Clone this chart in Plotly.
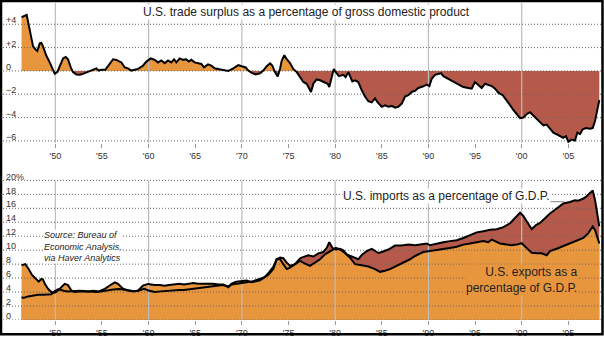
import plotly.graph_objects as go
import numpy as np

# ---------------- data ----------------
bal_year = [1946.38, 1946.93, 1947.26, 1947.61, 1947.86, 1948.07, 1948.33, 1948.50, 1948.68, 1949.04,
            1949.40, 1949.75, 1949.94, 1950.21, 1950.47, 1950.83, 1951.11, 1951.36, 1951.65, 1951.90,
            1952.25, 1952.62, 1952.97, 1953.51, 1954.04, 1954.40, 1954.65, 1954.93, 1955.36, 1955.83,
            1956.19, 1956.54, 1957.08, 1957.44, 1957.79, 1958.15, 1958.51, 1958.87, 1959.40, 1959.76,
            1960.23, 1960.66, 1961.01, 1961.36, 1961.73, 1962.08, 1962.44, 1962.73, 1962.97, 1963.34,
            1963.69, 1964.04, 1964.30, 1964.58, 1964.94, 1965.30, 1965.65, 1965.94, 1966.37, 1966.72,
            1967.09, 1967.44, 1967.84, 1968.55, 1969.08, 1969.62, 1969.98, 1970.41, 1970.69, 1971.06,
            1971.48, 1971.95, 1972.30, 1972.66, 1973.02, 1973.26, 1973.55, 1973.84, 1974.09, 1974.27,
            1974.55, 1974.81, 1975.16, 1975.51, 1975.88, 1976.23, 1976.59, 1976.95, 1977.41, 1977.66,
            1978.02, 1978.38, 1978.73, 1979.20, 1979.37, 1979.63, 1979.85, 1980.06, 1980.41, 1980.88,
            1981.13, 1981.41, 1981.59, 1981.84, 1982.13, 1982.48, 1982.85, 1983.20, 1983.56, 1983.92,
            1984.27, 1984.56, 1984.99, 1985.35, 1985.70, 1986.06, 1986.42, 1986.77, 1987.14, 1987.49,
            1987.84, 1988.21, 1988.56, 1988.92, 1989.45, 1989.82, 1990.10, 1990.35, 1990.71, 1991.06,
            1991.35, 1991.60, 1992.13, 1992.67, 1993.20, 1993.74, 1994.28, 1994.64, 1994.99, 1995.35,
            1995.71, 1996.07, 1996.42, 1996.78, 1997.14, 1997.49, 1997.96, 1998.39, 1998.75, 1999.10,
            1999.46, 1999.82, 2000.17, 2000.54, 2000.89, 2001.24, 2001.61, 2001.96, 2002.32, 2002.68,
            2003.03, 2003.39, 2003.75, 2004.10, 2004.46, 2004.75, 2005.00, 2005.36, 2005.71, 2005.96,
            2006.25, 2006.54, 2006.89, 2007.32, 2007.61, 2007.86, 2008.10, 2008.32]
bal_value = [4.6, 4.8, 3.5, 2.1, 1.85, 1.7, 2.36, 2.4, 2.1, 1.3,
             0.73, 0.03, -0.25, -0.1, 0.45, 1.07, 1.2, 1.0, 0.3, -0.1,
             -0.3, -0.33, -0.25, -0.05, 0.1, 0.22, 0.03, 0.1, 0.1, 0.6,
             1.0, 0.95, 0.73, 0.3, 0.22, 0.03, 0.08, 0.17, 0.45, 0.8,
             1.07, 0.95, 0.73, 0.9, 0.67, 0.9, 0.73, 1.0, 0.73, 1.07,
             0.95, 1.0, 0.8, 0.95, 0.73, 0.67, 0.6, 0.3, 0.56, 0.45,
             0.22, 0.17, 0.1, 0.0, 0.22, 0.5, 0.4, 0.3, 0.03, -0.17,
             -0.3, -0.2, 0.03, 0.4, 0.65, 0.45, -0.1, -0.48, 0.17, 0.87,
             1.35, 1.0, 0.67, 0.17, -0.1, -0.53, -0.95, -1.1, -1.8, -1.1,
             -0.73, -0.8, -0.9, -1.1, -1.38, -0.4, 0.17, -0.1, -0.45, -0.33,
             -0.53, -0.1, -0.45, -0.9, -0.8, -0.95, -1.66, -2.2, -2.6, -2.7,
             -2.36, -2.7, -3.07, -2.95, -3.07, -3.0, -3.15, -3.07, -2.8, -2.2,
             -2.08, -1.8, -1.7, -1.46, -1.32, -1.18, -1.3, -0.67, -0.34, -0.28,
             -0.2, -0.45, -0.67, -0.95, -1.18, -1.38, -1.46, -1.52, -0.95, -1.18,
             -1.46, -1.1, -1.18, -1.3, -1.52, -1.86, -2.08, -2.5, -2.93, -3.35,
             -3.7, -4.05, -4.0, -3.7, -3.54, -3.83, -4.05, -4.39, -4.67, -4.6,
             -4.95, -5.3, -5.43, -5.6, -5.74, -5.6, -6.08, -5.88, -5.97, -5.3,
             -5.4, -5.0, -4.9, -4.95, -4.9, -4.3, -3.35, -2.5]

exp_year = [1946.38, 1946.78, 1947.14, 1947.50, 1947.86, 1948.22, 1948.50, 1948.68, 1948.93, 1949.22,
            1949.57, 1949.94, 1950.29, 1950.65, 1951.01, 1951.36, 1951.72, 1952.08, 1952.79, 1953.51,
            1954.04, 1954.65, 1955.30, 1955.83, 1956.37, 1956.72, 1957.26, 1957.79, 1958.33, 1958.87,
            1959.40, 1959.94, 1960.66, 1961.2, 1961.7, 1962.2, 1962.7, 1963.3, 1963.8, 1964.3,
            1964.8, 1965.3, 1965.8, 1966.4, 1966.9, 1967.5, 1968.0, 1968.55, 1968.9, 1969.4,
            1969.9, 1970.5, 1971.06, 1971.5, 1971.95, 1972.4, 1972.84, 1973.37, 1973.73, 1974.09,
            1974.44, 1974.81, 1975.16, 1975.7, 1976.23, 1976.77, 1977.30, 1977.84, 1978.38, 1978.91,
            1979.45, 1980.06, 1980.52, 1981.05, 1981.59, 1982.13, 1982.85, 1983.56, 1984.27, 1984.81,
            1985.35, 1985.88, 1986.42, 1986.96, 1987.49, 1988.03, 1988.56, 1989.10, 1989.45, 1990.16,
            1990.88, 1991.60, 1992.31, 1993.03, 1993.74, 1994.46, 1995.17, 1995.89, 1996.42, 1996.78,
            1997.14, 1997.67, 1998.39, 1998.93, 1999.46, 2000.00, 2000.54, 2001.07, 2001.61, 2002.14,
            2002.68, 2003.03, 2003.75, 2004.46, 2005.18, 2005.89, 2006.61, 2007.14, 2007.61, 2007.86,
            2008.10, 2008.32]
exp_value = [7.85, 8.0, 7.3, 6.45, 5.97, 5.5, 5.88, 5.8, 5.03, 4.47,
             4.0, 3.9, 4.23, 4.7, 5.17, 5.0, 4.23, 4.0, 4.1, 4.05,
             4.2, 4.1, 4.47, 4.94, 5.4, 5.17, 4.47, 4.23, 4.1, 4.23,
             4.94, 5.17, 5.0, 5.0, 4.9, 5.0, 5.1, 5.2, 5.1, 5.25,
             5.3, 5.2, 5.2, 5.3, 5.2, 5.1, 5.1, 4.7, 5.2, 5.5,
             5.6, 5.64, 5.4, 5.5, 5.7, 6.1, 6.7, 7.6, 8.7, 8.93,
             8.84, 8.22, 7.76, 8.0, 8.46, 8.08, 7.76, 8.22, 8.7, 9.4,
             9.8, 10.34, 10.1, 9.6, 8.93, 8.0, 7.85, 7.66, 7.29, 6.9,
             7.05, 7.29, 7.66, 8.0, 8.33, 8.7, 9.17, 9.55, 9.74, 9.87,
             10.0, 10.2, 10.3, 10.5, 10.8, 10.96, 11.14, 11.3, 11.14, 11.52,
             11.3, 10.96, 10.8, 10.7, 10.8, 11.0, 10.3, 9.64, 9.55, 9.55,
             9.27, 9.87, 10.2, 10.58, 10.96, 11.3, 11.75, 12.45, 13.4, 12.9,
             12.0, 10.96]

imp_year = [1946.38, 1946.60, 1947.07, 1947.61, 1948.15, 1948.69, 1949.22, 1949.57, 1949.94, 1950.29,
            1950.65, 1951.01, 1951.36, 1951.90, 1952.5, 1953.15, 1953.8, 1954.4, 1955.0, 1955.6,
            1956.2, 1956.9, 1957.6, 1958.3, 1958.9, 1959.5, 1960.0, 1960.66, 1961.3, 1962.0,
            1962.7, 1963.3, 1963.8, 1964.3, 1964.8, 1965.3, 1965.8, 1966.4, 1966.9, 1967.5,
            1968.0, 1968.55, 1968.9, 1969.4, 1969.9, 1970.5, 1971.06, 1971.5, 1971.95, 1972.4,
            1972.84, 1973.37, 1973.73, 1974.09, 1974.44, 1974.81, 1975.16, 1975.7, 1976.23, 1976.41,
            1977.12, 1977.66, 1978.20, 1978.73, 1979.10, 1979.37, 1979.70, 1980.06, 1980.52, 1980.88,
            1981.24, 1981.59, 1982.13, 1982.48, 1982.85, 1983.38, 1983.92, 1984.27, 1984.63, 1984.99,
            1985.70, 1986.42, 1987.14, 1987.84, 1988.56, 1989.10, 1989.82, 1990.16, 1990.88, 1991.60,
            1992.31, 1993.03, 1993.74, 1994.46, 1995.17, 1995.89, 1996.60, 1997.32, 1998.03, 1998.75,
            1999.28, 1999.82, 2000.17, 2000.71, 2001.07, 2001.53, 2001.96, 2002.50, 2003.03, 2003.75,
            2004.46, 2005.18, 2005.71, 2006.07, 2006.61, 2006.96, 2007.32, 2007.61, 2007.86, 2008.10,
            2008.32]
imp_value = [3.29, 3.15, 3.38, 3.53, 3.6, 3.6, 3.6, 3.7, 4.15, 4.4,
             4.3, 4.14, 4.1, 4.15, 4.2, 4.15, 4.1, 4.0, 4.1, 4.25,
             4.37, 4.45, 4.35, 4.15, 4.2, 4.47, 4.23, 4.0, 4.1, 4.2,
             4.25, 4.3, 4.3, 4.4, 4.5, 4.6, 4.7, 4.8, 4.9, 4.95,
             5.0, 4.8, 5.1, 5.2, 5.2, 5.4, 5.5, 5.7, 5.9, 6.1,
             6.5, 7.3, 8.7, 8.7, 8.0, 7.29, 7.5, 8.0, 8.8, 8.93,
             9.27, 9.1, 9.55, 9.74, 10.34, 11.14, 10.34, 10.1, 10.2, 9.97,
             9.4, 9.2, 8.8, 8.7, 9.3, 9.87, 10.2, 9.87, 9.6, 9.74,
             10.1, 10.67, 10.67, 10.8, 10.7, 10.8, 10.96, 10.7, 10.96, 11.14,
             11.3, 11.42, 11.75, 12.2, 12.55, 12.7, 12.93, 13.0, 13.3, 13.86,
             14.57, 15.37, 14.9, 13.78, 13.0, 13.6, 13.9, 14.57, 15.27, 15.98,
             16.7, 16.9, 17.16, 17.1, 17.4, 17.73, 18.2, 18.57, 17.2, 14.8,
             13.4]

x_tick_vals = [1950, 1955, 1960, 1965, 1970, 1975, 1980, 1985, 1990, 1995, 2000, 2005]
x_tick_text = ["'50", "'55", "'60", "'65", "'70", "'75", "'80", "'85", "'90", "'95", "'00", "'05"]
decade_lines = [1950, 1960, 1970, 1980, 1990, 2000]
top_tick_vals = [4, 2, 0, -2, -4, -6]
top_tick_text = ["+4", "+2", "0", "\u22122", "\u22124", "\u22126"]
bot_tick_vals = [20, 18, 16, 14, 12, 10, 8, 6, 4, 2, 0]
bot_tick_text = ["20%", "18", "16", "14", "12", "10", "8", "6", "4", "2", "0"]

title_text = "U.S. trade surplus as a percentage of gross domestic product"
imports_text = "U.S. imports as a percentage of G.D.P."
exports_text = "U.S. exports as a<br>percentage of G.D.P."
source_text = "<i>Source: Bureau of<br>Economic Analysis,<br>via Haver Analytics</i>"

# ---------------- style ----------------
ORANGE = "#E8963D"
RED = "#B55A4B"
GRID_DOT = "#666666"
GRID_V = "#bcbcbc"
FONT = "Arial, Liberation Sans, Helvetica, sans-serif"
X_RANGE = [1944.39, 2008.50]
TOP_RANGE = [-6.203, 5.823]
BOT_RANGE = [0, 21.86]

fig = go.Figure()

bal = np.array(bal_value)

# --- top panel fills
fig.add_trace(go.Scatter(x=bal_year, y=np.maximum(bal, 0), mode="lines", fill="tozeroy",
                         fillcolor=ORANGE, line=dict(width=0), xaxis="x", yaxis="y",
                         hoverinfo="skip", showlegend=False))
fig.add_trace(go.Scatter(x=bal_year, y=np.minimum(bal, 0), mode="lines", fill="tozeroy",
                         fillcolor=RED, line=dict(width=0), xaxis="x", yaxis="y",
                         hoverinfo="skip", showlegend=False))

# --- bottom panel fills
fig.add_trace(go.Scatter(x=imp_year, y=imp_value, mode="lines", fill="tozeroy",
                         fillcolor=RED, line=dict(width=0), xaxis="x2", yaxis="y2",
                         hoverinfo="skip", showlegend=False))
fig.add_trace(go.Scatter(x=exp_year, y=exp_value, mode="lines", fill="tozeroy",
                         fillcolor=ORANGE, line=dict(width=0), xaxis="x2", yaxis="y2",
                         hoverinfo="skip", showlegend=False))


def grid_traces(xa, ya, hvals, yr):
    hx, hy = [], []
    for v in hvals:
        hx += [X_RANGE[0], X_RANGE[1], None]
        hy += [v, v, None]
    vx, vy = [], []
    for d in decade_lines:
        vx += [d, d, None]
        vy += [yr[0], yr[1], None]
    fig.add_trace(go.Scatter(x=vx, y=vy, mode="lines", line=dict(color=GRID_V, width=1.2),
                             xaxis=xa, yaxis=ya, hoverinfo="skip", showlegend=False))
    fig.add_trace(go.Scatter(x=hx, y=hy, mode="lines",
                             line=dict(color=GRID_DOT, width=1, dash="1px,2px"),
                             xaxis=xa, yaxis=ya, hoverinfo="skip", showlegend=False))


grid_traces("x", "y", top_tick_vals, TOP_RANGE)
grid_traces("x2", "y2", bot_tick_vals, [0, 20])

# --- black lines
fig.add_trace(go.Scatter(x=bal_year, y=bal_value, mode="lines", line=dict(color="black", width=2),
                         xaxis="x", yaxis="y", hoverinfo="skip", showlegend=False))
fig.add_trace(go.Scatter(x=imp_year, y=imp_value, mode="lines", line=dict(color="black", width=2),
                         xaxis="x2", yaxis="y2", hoverinfo="skip", showlegend=False))
fig.add_trace(go.Scatter(x=exp_year, y=exp_value, mode="lines", line=dict(color="black", width=2),
                         xaxis="x2", yaxis="y2", hoverinfo="skip", showlegend=False))

tickfont = dict(family=FONT, size=9, color="#333")
xaxis_common = dict(range=X_RANGE, tickvals=x_tick_vals, ticktext=x_tick_text, ticks="outside",
                    ticklen=4, tickwidth=1, tickcolor="#999", showgrid=False, zeroline=False,
                    showline=False, tickfont=tickfont, fixedrange=True)
yaxis_common = dict(ticks="", showgrid=False, zeroline=False, showline=False,
                    ticklabelposition="inside", ticklabelshift=-4, ticklabeloverflow="allow",
                    tickfont=tickfont, fixedrange=True)

fig.update_layout(
    width=604, height=341,
    margin=dict(l=3, r=3, t=3, b=16),
    paper_bgcolor="white", plot_bgcolor="white",
    xaxis=dict(domain=[0, 1], anchor="y", **xaxis_common),
    yaxis=dict(domain=[0.5575, 1], range=TOP_RANGE, tickvals=top_tick_vals,
               ticktext=top_tick_text, anchor="x", **yaxis_common),
    xaxis2=dict(domain=[0, 1], anchor="y2", **xaxis_common),
    yaxis2=dict(domain=[0, 0.4814], range=BOT_RANGE, tickvals=bot_tick_vals,
                ticktext=bot_tick_text, anchor="x2", **yaxis_common),
    showlegend=False,
)

annos = [
    dict(text=title_text, x=0.2324, y=0.972, xanchor="left", yanchor="middle",
         font=dict(family=FONT, size=12, color="#222"), bgcolor="white", borderpad=0),
    dict(text=imports_text, x=0.5669, y=0.3913, xanchor="left", yanchor="middle",
         font=dict(family=FONT, size=12, color="#222"), bgcolor="white", borderpad=0),
    dict(text=exports_text, x=0.9632, y=0.1273, xanchor="right", yanchor="middle", align="right",
         font=dict(family=FONT, size=12, color="#222"), bgcolor=ORANGE, borderpad=0),
    dict(text=source_text, x=0.0669, y=0.2326, xanchor="left", yanchor="middle", align="left",
         font=dict(family=FONT, size=9, color="#222"), bgcolor="white", borderpad=0),
]
for a in annos:
    fig.add_annotation(xref="paper", yref="paper", showarrow=False, **a)

# leader line from the imports label to the imports line
fig.add_shape(type="path", xref="x2", yref="y2",
              path="M 2002.28 18.0 L 2002.28 16.95 L 2004.6 16.95",
              line=dict(color="#888", width=1))

# outer black frame
fig.add_shape(type="rect", xref="paper", yref="paper",
              x0=-2 / 598, x1=(602.5 - 3) / 598, y0=(325 - 339.5) / 322, y1=(325 - 1) / 322,
              line=dict(color="black", width=2.5), fillcolor="rgba(0,0,0,0)")

fig.write_html("out.html")
